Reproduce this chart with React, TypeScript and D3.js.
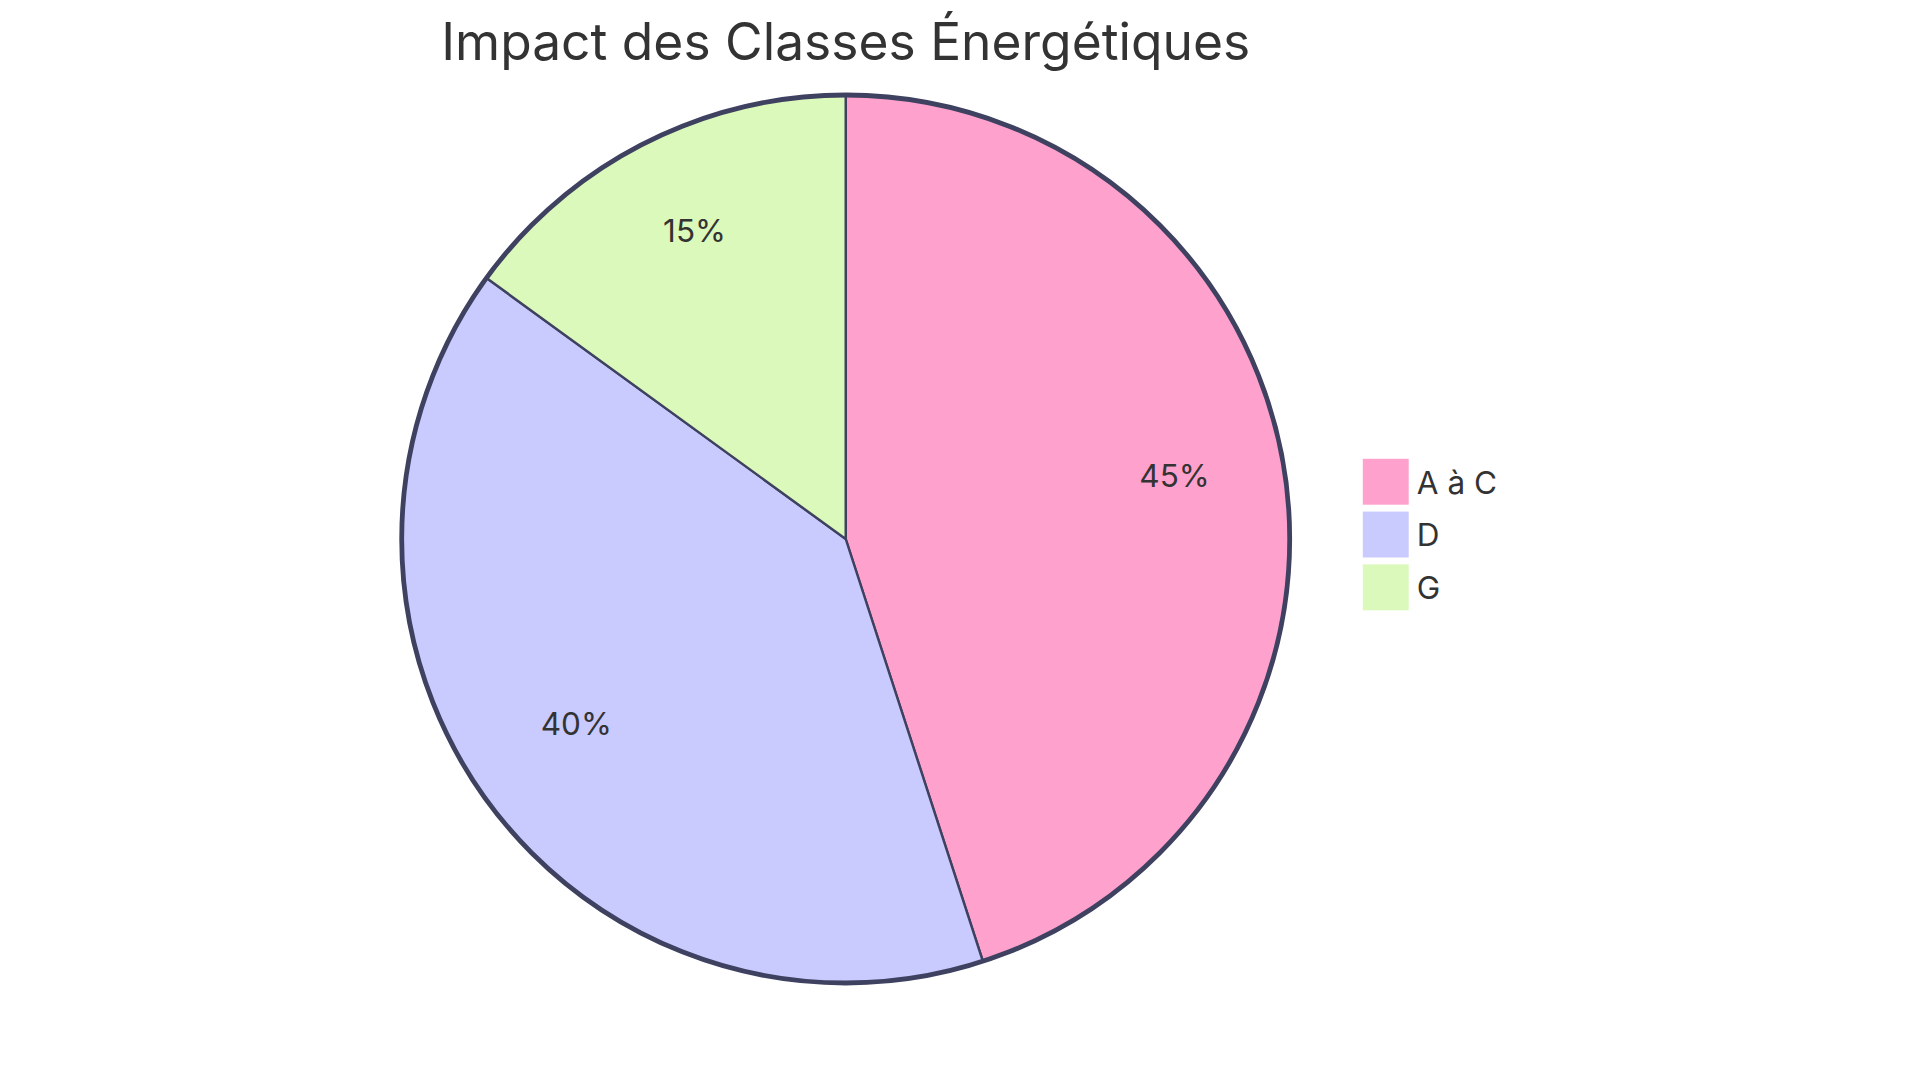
import React from "react";
import * as d3 from "d3";

const title = "Impact des Classes Énergétiques";
const categories = ["A à C", "D", "G"];
const values = [45, 40, 15];
const colors = ["#FFA1CD", "#C9CAFE", "#DBF9BA"];

const W = 1920;
const H = 1083;
const CX = 845.7;
const CY = 539;
const R = 444;
const FONT = "Inter, 'Noto Sans', sans-serif";

export default function App() {
  const total = d3.sum(values);
  const pie = d3.pie<number>().sort(null).value((d) => d);
  const arcs = pie(values);
  const arcGen = d3.arc<d3.PieArcDatum<number>>().innerRadius(0).outerRadius(R);
  const labelArc = d3
    .arc<d3.PieArcDatum<number>>()
    .innerRadius(R * 0.75)
    .outerRadius(R * 0.75);

  const legendX = 1364;
  const legendY = 460;
  const legendStep = 52.8;
  const box = 43.5;

  return (
    <svg
      width={W}
      height={H}
      viewBox={`0 0 ${W} ${H}`}
      style={{ position: "absolute", left: 0, top: 0, background: "#ffffff" }}
    >
      <text
        x={CX}
        y={60}
        textAnchor="middle"
        fontFamily={FONT}
        fontSize={51.5}
        fill="#333333"
      >
        {title}
      </text>
      <g transform={`translate(${CX},${CY})`}>
        {arcs.map((a, i) => (
          <path
            key={i}
            d={arcGen(a) || ""}
            fill={colors[i]}
            stroke="#3F4160"
            strokeWidth={2.4}
          />
        ))}
        <circle r={R} fill="none" stroke="#3F4160" strokeWidth={4.8} />
        {arcs.map((a, i) => {
          const [x, y] = labelArc.centroid(a);
          return (
            <text
              key={"l" + i}
              x={x}
              y={y}
              textAnchor="middle"
              fontFamily={FONT}
              fontSize={31.5}
              fill="#333333"
            >
              {`${d3.format(".0f")((values[i] / total) * 100)}%`}
            </text>
          );
        })}
      </g>
      {categories.map((c, i) => (
        <g key={c} transform={`translate(${legendX},${legendY + i * legendStep})`}>
          <rect
            width={box}
            height={box}
            fill={colors[i]}
            stroke={colors[i]}
            strokeWidth={2.4}
          />
          <text x={52.8} y={33.6} fontFamily={FONT} fontSize={31.5} fill="#333333">
            {c}
          </text>
        </g>
      ))}
    </svg>
  );
}
